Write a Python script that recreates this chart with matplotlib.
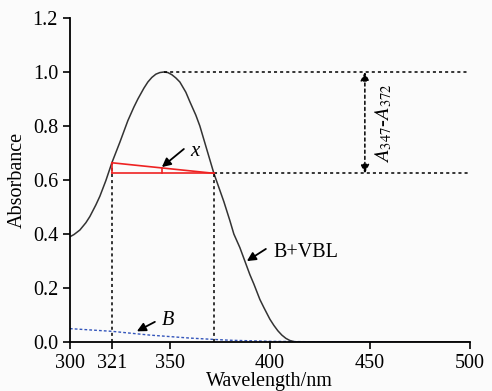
import matplotlib.pyplot as plt

# spectra
wl_mix = [300, 302, 305, 308, 310, 313, 315, 318, 321, 323, 325, 327, 329, 332, 334, 337, 339, 341,
          343, 345, 347, 349, 351, 353, 355, 358, 360, 363, 365, 367, 369, 372, 375, 377, 380, 382,
          385, 387, 390, 392, 395, 397, 400, 402, 404, 406, 408, 410, 413, 450, 500]
abs_mix = [0.39, 0.398, 0.415, 0.442, 0.465, 0.508, 0.54, 0.598, 0.664, 0.702, 0.74, 0.78, 0.82, 0.87,
           0.90, 0.94, 0.963, 0.98, 0.992, 0.998, 1.0, 0.998, 0.99, 0.978, 0.963, 0.925, 0.89, 0.84,
           0.80, 0.75, 0.70, 0.625, 0.562, 0.52, 0.45, 0.40, 0.35, 0.31, 0.25, 0.215, 0.158, 0.128,
           0.085, 0.062, 0.042, 0.026, 0.014, 0.006, 0.0, 0.0, 0.0]
wl_b = [300, 321, 340, 360, 372, 380, 400, 450, 500]
abs_b = [0.05, 0.04, 0.026, 0.015, 0.01, 0.007, 0.003, -0.001, -0.003]

xticks = [300, 321, 350, 400, 450, 500]
yticks = [0.0, 0.2, 0.4, 0.6, 0.8, 1.0, 1.2]

wl_left, wl_mid, wl_right = 321, 347, 372
a_left, a_peak, a_right = 0.664, 1.0, 0.625

plt.rcParams['font.family'] = ['Liberation Serif', 'DejaVu Serif']
plt.rcParams['mathtext.fontset'] = 'stix'
plt.rcParams['font.size'] = 14.5

fig = plt.figure(figsize=(4.92, 3.91), dpi=100, facecolor='#fbfbfb')
ax = fig.add_axes([0.142, 0.125, 0.813, 0.829], facecolor='#fbfbfb')

ax.plot(wl_mix, abs_mix, color='#333333', lw=1.1)
ax.plot(wl_b, abs_b, color='#3355bb', lw=1.0, ls=(0, (2, 1.5)))

# dotted guides
dot = dict(color='black', lw=1.1, ls=(0, (2, 2)))
ax.plot([wl_left, wl_left], [0, a_left], **dot)
ax.plot([wl_right, wl_right], [0, a_right], **dot)
ax.plot([wl_mid, 499], [a_peak, a_peak], **dot)
ax.plot([wl_right, 499], [a_right, a_right], **dot)

# red triangle
red = dict(color='#ee2222', lw=1.2)
ax.plot([wl_left, wl_right], [a_left, a_right], **red)
ax.plot([wl_left, wl_right], [a_right, a_right], **red)
ax.plot([wl_left, wl_left], [a_right, a_left], **red)
ax.plot([346, 346], [a_right, 0.646], **red)

# double arrow A347-A372
ax.annotate('', xy=(447.5, a_peak), xytext=(447.5, a_right),
            arrowprops=dict(arrowstyle='<|-|>', color='black', lw=1.1, ls=(0, (2, 2)),
                            mutation_scale=13, shrinkA=0, shrinkB=0))
ax.text(457, 0.81, r'$A_{347}$-$A_{372}$', rotation=90, ha='center', va='center', fontsize=15)

arrow = dict(arrowstyle='-|>', color='black', lw=1.3, mutation_scale=13, shrinkA=0, shrinkB=0)
ax.annotate('', xy=(346, 0.648), xytext=(357, 0.715), arrowprops=arrow)
ax.text(360, 0.69, 'x', style='italic', fontsize=15)
ax.annotate('', xy=(388.5, 0.30), xytext=(398, 0.345), arrowprops=arrow)
ax.text(402, 0.33, 'B+VBL', va='center', fontsize=14.5)
ax.annotate('', xy=(333.5, 0.04), xytext=(342.5, 0.075), arrowprops=arrow)
ax.text(346, 0.08, 'B', style='italic', va='center', fontsize=14.5)

ax.set_xlim(300, 500)
ax.set_ylim(0, 1.2)
ax.set_xticks(xticks)
ax.set_yticks(yticks)
ax.set_yticklabels(['%.1f' % v for v in yticks])
ax.spines['top'].set_visible(False)
ax.spines['right'].set_visible(False)
ax.spines['left'].set_linewidth(1.3)
ax.spines['bottom'].set_linewidth(1.3)
ax.tick_params(direction='out', length=5, width=1.2, labelsize=14.5)
ax.set_xlabel('Wavelength/nm', fontsize=14.5, labelpad=-1)
ax.set_ylabel('Absorbance', fontsize=14.5, labelpad=4)

fig.savefig('out.png', dpi=100, facecolor=fig.get_facecolor())
